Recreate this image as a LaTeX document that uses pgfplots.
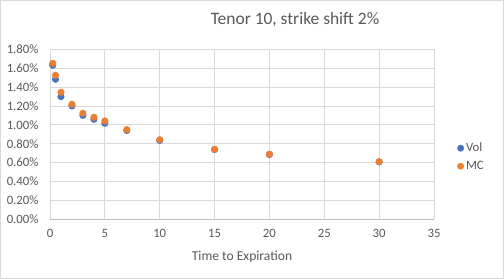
\documentclass[border=0pt]{standalone}
\usepackage{pgfplots}
\pgfplotsset{compat=1.18}
\usepackage{fontspec}
\setmainfont{Carlito}

\definecolor{volblue}{HTML}{4472C4}
\definecolor{mcorange}{HTML}{ED7D31}
\definecolor{txtgray}{HTML}{595959}
\definecolor{gridgray}{HTML}{D9D9D9}
\definecolor{axisgray}{HTML}{BFBFBF}

\begin{document}
\begin{tikzpicture}[x=1bp,y=1bp]
  \useasboundingbox (0,0) rectangle (504bp,279bp);
  \fill[white] (0,0) rectangle (504bp,279bp);
  \draw[gridgray, line width=1bp] (0.5bp,0.5bp) rectangle (503.5bp,278.5bp);

  \node[txtgray, font=\fontsize{17.5}{20}\selectfont] at (295bp,259bp) {Tenor 10, strike shift 2\%};

  \begin{axis}[
      at={(50bp,59.7bp)}, anchor=south west,
      scale only axis,
      width=384bp, height=170bp,
      xmin=0, xmax=35, ymin=0, ymax=1.8,
      xtick={0,5,...,35},
      ytick={0,0.2,...,1.8},
      /pgf/number format/assume math mode=true,
      yticklabel={\pgfmathprintnumber[fixed,fixed zerofill,precision=2]{\tick}\%},
      xticklabel style={yshift=-6bp},
      yticklabel style={xshift=-8bp},
      ticklabel style={font=\fontsize{12.8}{14}\selectfont, text=txtgray},
      major tick length=0pt,
      grid=major,
      major grid style={gridgray, line width=0.8bp},
      axis x line*=bottom, axis y line*=left,
      x axis line style={axisgray, line width=0.8bp, -},
      y axis line style={draw=none},
      xlabel={Time to Expiration},
      xlabel style={font=\fontsize{13.6}{15}\selectfont, text=txtgray, yshift=-7bp},
      legend style={at={(1.06,0.366)}, anchor=west, draw=none, fill=none,
        font=\fontsize{12.8}{14}\selectfont, text=txtgray,
        row sep=4bp, inner sep=0pt},
      legend cell align=left,
      legend image code/.code={\fill[#1] (0.15cm,0cm) circle (3.2bp);},
    ]
    \addplot[only marks, mark=*, mark size=3.3bp, color=volblue] coordinates {
        (0.25,1.631) (0.5,1.483) (1,1.299) (2,1.200) (3,1.100)
        (4,1.059) (5,1.017) (7,0.940) (10,0.835)
        (15,0.738) (20,0.686) (30,0.608)
      };
    \addlegendentry{Vol}
    \addplot[only marks, mark=*, mark size=3.3bp, color=mcorange] coordinates {
        (0.25,1.652) (0.5,1.525) (1,1.345) (2,1.218) (3,1.123)
        (4,1.080) (5,1.041) (7,0.949) (10,0.843)
        (15,0.741) (20,0.689) (30,0.610)
      };
    \addlegendentry{MC}
  \end{axis}
\end{tikzpicture}
\end{document}
